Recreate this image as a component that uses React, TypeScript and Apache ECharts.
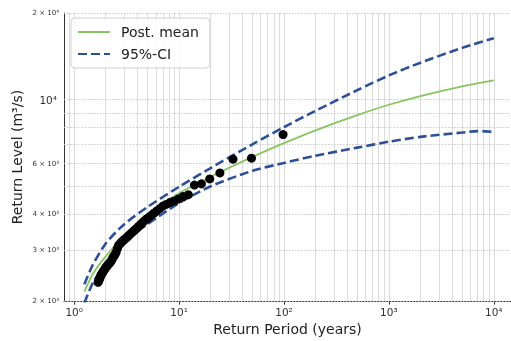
import React, { useEffect, useRef } from "react";
import * as echarts from "echarts";

// Return periods (years) of the posterior curves
const returnPeriods = [1.25, 1.5, 2, 3, 5, 10, 20, 50, 100, 200, 500, 1000, 2000, 5000, 10000];
const meanLevel = [2156, 2478, 2860, 3377, 4017, 4739, 5397, 6332, 7070, 7833, 8844, 9606, 10302, 11136, 11680];
const upperLevel = [2286, 2666, 3170, 3697, 4243, 4987, 5794, 7004, 8032, 9156, 10793, 12145, 13446, 15134, 16348];
const lowerPeriods = [1.25, 1.5, 2, 3, 5, 10, 20, 50, 100, 200, 500, 1000, 2000, 5000, 7000, 10000];
const lowerLevel = [1969, 2305, 2719, 3208, 3697, 4379, 5008, 5667, 6034, 6393, 6819, 7149, 7433, 7691, 7782, 7734];

// Observed annual maxima
const obsPeriods = [98, 49, 32.67, 24.5, 19.6, 16.33, 14, 12.25, 10.89, 9.8, 8.91, 8.17, 7.54, 7, 6.53, 6.13, 5.76, 5.44, 5.16, 4.9, 4.67, 4.45, 4.26, 4.08, 3.92, 3.77, 3.63, 3.5, 3.38, 3.27, 3.16, 3.06, 2.97, 2.88, 2.8, 2.72, 2.65, 2.58, 2.51, 2.45, 2.39, 2.33, 2.28, 2.23, 2.18, 2.13, 2.09, 2.04, 2, 1.96, 1.92, 1.88, 1.85, 1.81, 1.78, 1.75, 1.72, 1.69];
const obsLevel = [7570, 6266, 6216, 5569, 5310, 5105, 5055, 4683, 4613, 4522, 4445, 4396, 4331, 4274, 4188, 4111, 4039, 3966, 3907, 3855, 3800, 3738, 3676, 3623, 3571, 3524, 3482, 3441, 3401, 3358, 3321, 3290, 3259, 3226, 3196, 3156, 3119, 3048, 2953, 2902, 2862, 2823, 2775, 2737, 2713, 2692, 2670, 2638, 2612, 2584, 2553, 2525, 2497, 2470, 2429, 2391, 2356, 2323];

// Grid lines and tick labels
const xGridValues = [0.9, 1, 2, 3, 4, 5, 6, 7, 8, 9, 10, 20, 30, 40, 50, 60, 70, 80, 90, 100, 200, 300, 400, 500, 600, 700, 800, 900, 1000, 2000, 3000, 4000, 5000, 6000, 7000, 8000, 9000, 10000];
const yGridValues = [2000, 3000, 4000, 5000, 6000, 7000, 8000, 9000, 10000, 20000];
const yTickValues = [2000, 3000, 4000, 6000, 10000, 20000];
const yTickLabels = ["2 × 10³", "3 × 10³", "4 × 10³", "6 × 10³", "10⁴", "2 × 10⁴"];
const yTickMajor = [false, false, false, false, true, false];

const FONT = "DejaVu Sans";
const SUP: Record<string, string> = { "0": "⁰", "1": "¹", "2": "²", "3": "³", "4": "⁴", "5": "⁵", "-": "⁻" };

function powLabel(v: number): string {
  const k = Math.round(Math.log10(v));
  if (Math.abs(Math.pow(10, k) - v) > 1e-6 * v) return "";
  return "10" + String(k).split("").map((c) => SUP[c] || c).join("");
}

export default function App() {
  const ref = useRef<HTMLDivElement>(null);
  useEffect(() => {
    const chart = echarts.init(ref.current!, null, { renderer: "svg" });
    const zip = (xs: number[], ys: number[]) => xs.map((x, i) => [x, ys[i]]);
    const ciStyle = { color: "#2c4f98", width: 2.6, type: [9, 4] as any };

    const markData: any[] = [];
    xGridValues.forEach((v) => {
      markData.push({ xAxis: v, label: { show: false }, lineStyle: { color: "#d3d3d3", width: 0.8, type: "solid" } });
    });
    yGridValues.forEach((v) => {
      const idx = yTickValues.indexOf(v);
      const major = idx >= 0 && yTickMajor[idx];
      markData.push({
        yAxis: v,
        label: idx >= 0
          ? { show: true, position: "start", formatter: yTickLabels[idx], fontSize: major ? 10.5 : 7, color: "#333", fontFamily: FONT, distance: major ? 7 : 5 }
          : { show: false },
        lineStyle: { color: "#c4c4c4", width: 0.9, type: [1.5, 1.5] },
      });
    });

    chart.setOption({
      animation: false,
      grid: { left: 64, right: 0, top: 13, bottom: 36, containLabel: false },
      legend: {
        data: ["Post. mean", "95%-CI"],
        orient: "vertical",
        left: 71,
        top: 18,
        backgroundColor: "rgba(255,255,255,0.85)",
        borderColor: "#d0d0d0",
        borderWidth: 1,
        borderRadius: 4,
        padding: [7, 11, 7, 6],
        itemWidth: 32,
        itemHeight: 14,
        itemGap: 8,
        itemStyle: { opacity: 0 },
        textStyle: { fontSize: 14, fontFamily: FONT, color: "#222", padding: [0, 0, 0, 6] },
      },
      xAxis: {
        type: "log",
        logBase: 10,
        min: 0.8,
        max: 14590,
        name: "Return Period (years)",
        nameLocation: "middle",
        nameGap: 18,
        nameTextStyle: { fontSize: 14, fontFamily: FONT, color: "#222" },
        axisLine: { show: true, lineStyle: { color: "#333", width: 1 } },
        axisTick: { show: true, length: 3.5, lineStyle: { color: "#333" } },
        axisLabel: { formatter: (v: number) => powLabel(v), fontSize: 10.5, color: "#333", fontFamily: FONT, margin: 5, showMinLabel: false, showMaxLabel: false },
        splitLine: { show: false },
      },
      yAxis: {
        type: "log",
        logBase: 10,
        min: 2000,
        max: 20000,
        name: "Return Level (m³/s)",
        nameLocation: "middle",
        nameGap: 40,
        nameRotate: 90,
        nameTextStyle: { fontSize: 14, fontFamily: FONT, color: "#222" },
        axisLine: { show: true, lineStyle: { color: "#333", width: 1 } },
        axisTick: { show: false },
        axisLabel: { show: false },
        splitLine: { show: false },
      },
      series: [
        {
          name: "Post. mean",
          type: "line",
          data: zip(returnPeriods, meanLevel),
          symbol: "none",
          smooth: 0.25,
          color: "#88c462",
          lineStyle: { color: "#88c462", width: 1.8 },
          z: 3,
          markLine: { silent: true, symbol: ["none", "none"], z: 1, animation: false, data: markData },
        },
        {
          name: "95%-CI",
          type: "line",
          data: zip(returnPeriods, upperLevel),
          symbol: "none",
          smooth: 0.25,
          color: "#2c4f98",
          lineStyle: ciStyle,
          z: 3,
        },
        {
          name: "95%-CI",
          type: "line",
          data: zip(lowerPeriods, lowerLevel),
          symbol: "none",
          smooth: 0.25,
          color: "#2c4f98",
          lineStyle: ciStyle,
          z: 3,
        },
        {
          name: "Observed",
          type: "scatter",
          data: zip(obsPeriods, obsLevel),
          symbolSize: 9,
          itemStyle: { color: "#000", opacity: 1 },
          z: 4,
        },
      ],
    });
    return () => chart.dispose();
  }, []);
  return <div ref={ref} style={{ position: "fixed", left: 0, top: 0, width: 511, height: 341 }} />;
}
